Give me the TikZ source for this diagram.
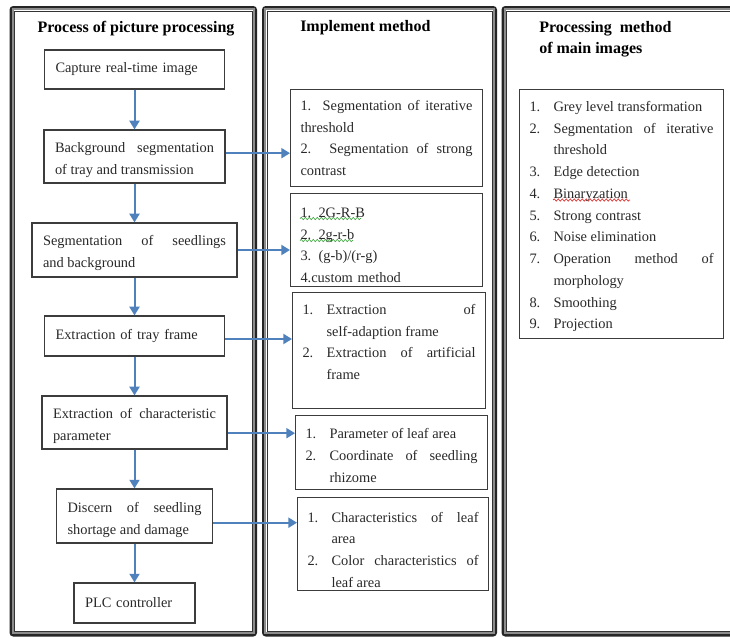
\documentclass[tikz,border=0pt]{standalone}
\usepackage{fontspec}
\setmainfont{Liberation Serif}
\usetikzlibrary{arrows.meta,positioning,decorations.pathmorphing}
\definecolor{flowblue}{RGB}{79,129,189}
\definecolor{boxgray}{RGB}{60,60,60}
\definecolor{txtgray}{RGB}{40,40,40}
\definecolor{wavegreen}{RGB}{60,160,60}
\definecolor{wavered}{RGB}{220,40,40}
\newlength{\pxu}
\setlength{\pxu}{0.75pt}
\newcommand{\itm}[2]{\par\noindent\hangindent=18pt\hangafter=1\makebox[18pt][l]{#1}#2\par}
\newcommand{\padtop}[1]{\rule{0pt}{#1}}
\newcommand{\panel}[4]{%
  \draw[line width=1.8pt,draw=black!85,rounded corners=2pt] (#1+1.2,#2+1.2) rectangle (#3-1.2,#4-1.2);
  \draw[line width=1.5pt,draw=black!45] (#1+3.4,#2+3.4) rectangle (#3-3.4,#4-3.4);
  \draw[line width=0.75pt,draw=black!80] (#1+5,#2+5) rectangle (#3-5,#4-5);}

\begin{document}
\begin{tikzpicture}[x=0.75pt,y=-0.75pt,
    every node/.style={font=\fontsize{10.8pt}{16.3pt}\selectfont,text=txtgray},
    procbox/.style={draw=boxgray,line width=0.9pt,inner xsep=11\pxu,inner ysep=0pt,align=justify},
    methbox/.style={draw=boxgray,line width=0.8pt,inner xsep=10\pxu,inner ysep=0pt,align=justify,anchor=north west},
    head/.style={font=\fontsize{12pt}{15.75pt}\selectfont\bfseries,text=black,inner sep=0pt},
    flow/.style={draw=flowblue,line width=1.5pt,-{Triangle[width=7.5pt,length=6.5pt]}},
    squiggle/.style={line width=0.5pt,decorate,decoration={snake,amplitude=0.8pt,segment length=3pt}}]
  \useasboundingbox (0,0) rectangle (730,637);
  \clip (0,0) rectangle (730,637);

  % three columns
  \panel{9.5}{6}{257}{636.5}
  \panel{262}{6}{497}{636.5}
  \panel{501.5}{6}{745}{636.5}

  \node[head,anchor=base] (headproc) at (136,32) {Process of picture processing};
  \node[head,anchor=base west] (headimpl) at (300,31) {Implement method};
  \node[head,anchor=north west,align=left] (headmain) at (539,21) {Processing\ \ method\\of main images};

  % process of picture processing
  \node[procbox,text width=158\pxu,minimum height=39\pxu,align=left] (capture) at (134.5,69.5) {Capture real-time image};
  \node[procbox,text width=159\pxu,minimum height=53\pxu] (tray) at (134.5,156.5) {\padtop{13pt}Background segmentation\linebreak of tray and transmission};
  \node[procbox,text width=183\pxu,minimum height=54\pxu] (seedbg) at (134.5,250) {\padtop{12pt}Segmentation of seedlings\linebreak and background};
  \node[procbox,text width=158\pxu,minimum height=40\pxu,align=left] (frame) at (134.5,336) {Extraction of tray frame};
  \node[procbox,text width=163\pxu,minimum height=53\pxu] (param) at (134.5,422.5) {\padtop{13pt}Extraction of characteristic\linebreak parameter};
  \node[procbox,text width=134\pxu,minimum height=54\pxu] (discern) at (134.5,516) {\padtop{13.5pt}Discern of seedling\linebreak shortage and damage};
  \node[procbox,text width=99\pxu,minimum height=40\pxu,align=left] (plc) at (134.5,603) {PLC controller};

  % implement method
  \node[methbox,text width=172\pxu,minimum height=97\pxu] (iter) at (290,89) {1. Segmentation of iterative\linebreak threshold\par 2. Segmentation of strong\linebreak contrast};
  \node[methbox,text width=172\pxu,minimum height=93\pxu,align=left] (color) at (290,193) {\padtop{15pt}1. 2G-R-B\\2. 2g-r-b\\3. (g-b)/(r-g)\\4.custom method};
  \node[methbox,text width=173\pxu,minimum height=116\pxu] (framemeth) at (292,292) {\itm{1.}{Extraction of\linebreak self-adaption frame}\itm{2.}{Extraction of artificial\linebreak frame}\vspace{5.7pt}\mbox{}};
  \node[methbox,text width=172\pxu,minimum height=74\pxu] (leaf) at (295,415) {\itm{1.}{Parameter of leaf area}\itm{2.}{Coordinate of seedling\linebreak rhizome}\vspace{-11.8pt}\mbox{}};
  \node[methbox,text width=171\pxu,minimum height=93\pxu] (charact) at (297,497) {\itm{1.}{Characteristics of leaf\linebreak area}\itm{2.}{Color characteristics of\linebreak leaf area}};

  % processing method of main images
  \node[methbox,text width=184\pxu,minimum height=249\pxu] (mainlist) at (519,89) {\itm{1.}{Grey level transformation}\itm{2.}{Segmentation of iterative\linebreak threshold}\itm{3.}{Edge detection}\itm{4.}{Binaryzation}\itm{5.}{Strong contrast}\itm{6.}{Noise elimination}\itm{7.}{Operation method of\linebreak morphology}\itm{8.}{Smoothing}\itm{9.}{Projection}\vspace{-9.1pt}\mbox{}};

  % spell-check marks
  \draw[squiggle,wavegreen] (300,218.5) -- (361,218.5);
  \draw[squiggle,wavegreen] (300,240.5) -- (353,240.5);
  \draw[squiggle,wavered] (553,200) -- (630,200);

  \foreach \a/\b in {capture/tray,tray/seedbg,seedbg/frame,frame/param,param/discern,discern/plc}
    \draw[flow] (\a) -- (\b);

  \draw[flow] ([yshift=2.5pt]tray.east) -- ([yshift=2.5pt]tray.east -| iter.west);
  \draw[flow] (seedbg.east) -- (seedbg.east -| color.west);
  \draw[flow] ([yshift=-2.25pt]frame.east) -- ([yshift=-2.25pt]frame.east -| framemeth.west);
  \draw[flow] ([yshift=-8pt]param.east) -- ([yshift=-8pt]param.east -| leaf.west);
  \draw[flow] ([yshift=-5pt]discern.east) -- ([yshift=-5pt]discern.east -| charact.west);
\end{tikzpicture}
\end{document}
